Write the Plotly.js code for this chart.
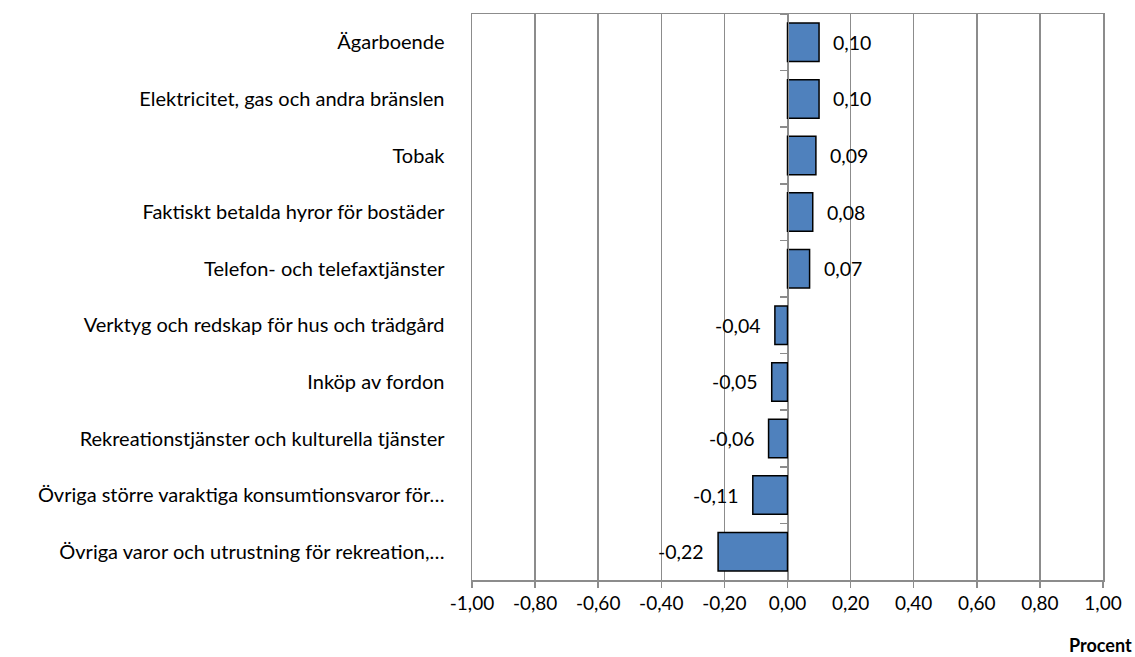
<!DOCTYPE html>
<html>
<head>
<meta charset="utf-8">
<script src="https://cdn.plot.ly/plotly-3.0.1.min.js"></script>
<style>html,body{margin:0;padding:0;background:#fff;}#chart{width:1135px;height:657px;}</style>
</head>
<body>
<div id="chart"></div>
<script>
var categories = [
  "Ägarboende",
  "Elektricitet, gas och andra bränslen",
  "Tobak",
  "Faktiskt betalda hyror för bostäder",
  "Telefon- och telefaxtjänster",
  "Verktyg och redskap för hus och trädgård",
  "Inköp av fordon",
  "Rekreationstjänster och kulturella tjänster",
  "Övriga större varaktiga konsumtionsvaror för…",
  "Övriga varor och utrustning för rekreation,…"
];
var values = [0.10, 0.10, 0.09, 0.08, 0.07, -0.04, -0.05, -0.06, -0.11, -0.22];
var xTickVals = [-1, -0.8, -0.6, -0.4, -0.2, 0, 0.2, 0.4, 0.6, 0.8, 1];
var xAxisLabel = "Procent";

var FONT = "Lato, 'Open Sans', sans-serif";
var GRID = "#8c8c8c";

function fmt(v){ return v.toFixed(2).replace(".", ","); }

var bars = {
  type: "bar", orientation: "h",
  x: values, y: categories,
  marker: {color: "#4F81BD", line: {color: "#000000", width: 1.5}},
  hoverinfo: "x+y"
};
var axisTrace = {
  type: "bar", orientation: "h",
  x: values, y: categories, yaxis: "y2",
  marker: {color: "rgba(0,0,0,0)"}, hoverinfo: "skip", showlegend: false
};

var annotations = values.map(function(v, i){
  return {
    x: v, y: categories[i], xref: "x", yref: "y",
    text: fmt(v), showarrow: false,
    xanchor: v >= 0 ? "left" : "right",
    xshift: v >= 0 ? 12 : -12,
    font: {family: FONT, size: 19.5, color: "#000"}
  };
});
annotations.push({
  xref: "paper", yref: "paper", x: 1, y: 0, xanchor: "right", yanchor: "top",
  xshift: 31, yshift: -52, text: "<b>" + xAxisLabel + "</b>", showarrow: false,
  font: {family: FONT, size: 18, color: "#000"}
});

var layout = {
  width: 1135, height: 657,
  margin: {l: 472, r: 32, t: 14, b: 77},
  paper_bgcolor: "#fff", plot_bgcolor: "#fff",
  showlegend: false,
  bargap: 0.32,
  barmode: "overlay",
  font: {family: FONT, size: 19, color: "#000"},
  xaxis: {
    range: [-1, 1], tickmode: "array", tickvals: xTickVals, ticktext: xTickVals.map(fmt),
    showgrid: true, gridcolor: GRID, gridwidth: 1.5,
    showline: true, mirror: true, linecolor: GRID, linewidth: 1.5,
    ticks: "outside", ticklen: 6, tickcolor: GRID, tickwidth: 1.5,
    zeroline: false, fixedrange: true,
    tickfont: {family: FONT, size: 19, color: "#000"}
  },
  yaxis: {
    type: "category", categoryorder: "array", categoryarray: categories,
    autorange: "reversed",
    showline: true, mirror: true, linecolor: GRID, linewidth: 1.5,
    ticks: "", showgrid: false, zeroline: false, fixedrange: true,
    ticklabelstandoff: 22,
    tickfont: {family: FONT, size: 20, color: "#000"}
  },
  yaxis2: {
    type: "category", categoryorder: "array", categoryarray: categories,
    autorange: "reversed", overlaying: "y", anchor: "free", position: 0.5,
    side: "left", showticklabels: false,
    ticks: "outside", tickson: "boundaries", ticklen: 8, tickcolor: GRID, tickwidth: 1.5,
    showline: true, linecolor: GRID, linewidth: 1.5,
    showgrid: false, zeroline: false, fixedrange: true
  },
  annotations: annotations
};

Plotly.newPlot("chart", [axisTrace, bars], layout, {displayModeBar: false, staticPlot: true});
</script>
</body>
</html>
